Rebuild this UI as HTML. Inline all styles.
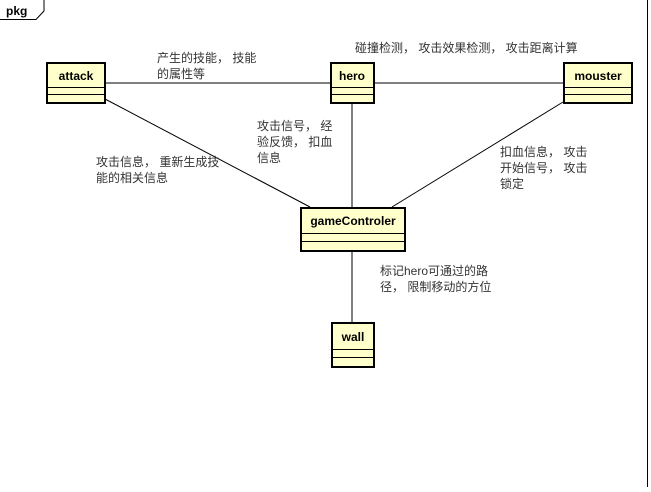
<!DOCTYPE html>
<html><head><meta charset="utf-8"><style>
body{margin:0;background:#fff;width:651px;height:487px;overflow:hidden}
text{font-family:"Liberation Sans","Noto Sans CJK SC",sans-serif;}
.t{font-size:12px;fill:#333}
.b{font-size:12px;font-weight:bold;fill:#000}
</style></head><body>
<svg width="651" height="487" xmlns="http://www.w3.org/2000/svg">
<line x1="647.5" y1="0" x2="647.5" y2="487" stroke="#000"/>
<path d="M0 19.5 H36 L44 11 V0" fill="none" stroke="#000"/>
<text x="6" y="15" class="b">pkg</text>
<g stroke="#000" stroke-width="1">
<line x1="105" y1="83" x2="330" y2="83"/>
<line x1="374" y1="83" x2="563" y2="83"/>
<line x1="352" y1="103" x2="352" y2="207"/>
<line x1="105" y1="99" x2="310" y2="207"/>
<line x1="563" y1="102" x2="392" y2="207"/>
<line x1="352" y1="251" x2="352" y2="322"/>
</g>
<g fill="#ffffcc" stroke="#000" stroke-width="2">
<rect x="47" y="63" width="58" height="40"/>
<rect x="331" y="63" width="43" height="40"/>
<rect x="564" y="63" width="68" height="40"/>
<rect x="301" y="208" width="104" height="43"/>
<rect x="332" y="323" width="42" height="44"/>
</g>
<g stroke="#000" stroke-width="1">
<line x1="47" y1="87.5" x2="105" y2="87.5"/><line x1="47" y1="94.5" x2="105" y2="94.5"/>
<line x1="331" y1="87.5" x2="374" y2="87.5"/><line x1="331" y1="94.5" x2="374" y2="94.5"/>
<line x1="564" y1="87.5" x2="632" y2="87.5"/><line x1="564" y1="94.5" x2="632" y2="94.5"/>
<line x1="301" y1="233.5" x2="405" y2="233.5"/><line x1="301" y1="241.5" x2="405" y2="241.5"/>
<line x1="332" y1="349.5" x2="374" y2="349.5"/><line x1="332" y1="357.5" x2="374" y2="357.5"/>
</g>
<text x="76" y="80" class="b" text-anchor="middle">attack</text>
<text x="352" y="80" class="b" text-anchor="middle">hero</text>
<text x="598" y="80" class="b" text-anchor="middle">mouster</text>
<text x="353" y="225" class="b" text-anchor="middle">gameControler</text>
<text x="353" y="341" class="b" text-anchor="middle">wall</text>
<text x="157" y="62" class="t">产生的技能， 技能</text>
<text x="157" y="78" class="t">的属性等</text>
<text x="355" y="52" class="t">碰撞检测， 攻击效果检测， 攻击距离计算</text>
<text x="257" y="130" class="t">攻击信号， 经</text>
<text x="257" y="146" class="t">验反馈， 扣血</text>
<text x="257" y="162" class="t">信息</text>
<text x="96" y="166" class="t">攻击信息， 重新生成技</text>
<text x="96" y="182" class="t">能的相关信息</text>
<text x="500" y="156" class="t">扣血信息， 攻击</text>
<text x="500" y="172" class="t">开始信号， 攻击</text>
<text x="500" y="188" class="t">锁定</text>
<text x="380" y="275" class="t">标记hero可通过的路</text>
<text x="380" y="291" class="t">径， 限制移动的方位</text>
</svg>
</body></html>
